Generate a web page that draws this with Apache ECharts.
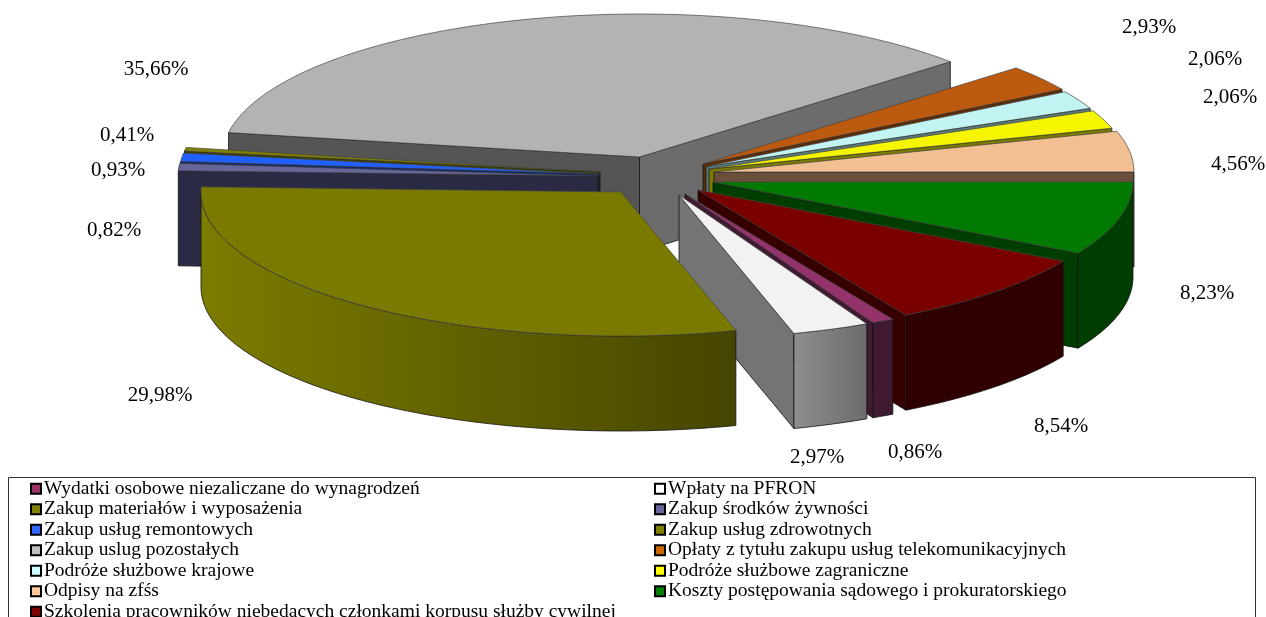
<!DOCTYPE html>
<html><head><meta charset="utf-8">
<style>html,body{margin:0;padding:0;background:#fff;overflow:hidden;width:1266px;height:617px}#c{width:1266px;height:680px}</style>
<script src="https://cdn.jsdelivr.net/npm/echarts@6/dist/echarts.min.js"></script>
</head><body><div id="c"></div>
<script>
const names = ["Wydatki osobowe niezaliczane do wynagrodzeń","Wpłaty na PFRON","Zakup materiałów i wyposażenia","Zakup środków żywności","Zakup usług remontowych","Zakup usług zdrowotnych","Zakup uslug pozostałych","Opłaty z tytułu zakupu usług telekomunikacyjnych","Podróże służbowe krajowe","Podróże służbowe zagraniczne","Odpisy na zfśs","Koszty postępowania sądowego i prokuratorskiego","Szkolenia pracowników niebędących członkami korpusu służby cywilnej"];
const values = [0.86,2.97,29.98,0.82,0.93,0.41,35.66,2.93,2.06,2.06,4.56,8.23,8.54];
const legendColors = ["#993366","#ffffff","#808000","#666699","#3366ff","#808000","#c0c0c0","#cc6600","#ccffff","#ffff00","#ffcc99","#008000","#800000"];
const topColors = ["#94336b","#f2f2f2","#7a7a00","#66669a","#2060ff","#808000","#b3b3b3","#bc5a10","#c2f4f4","#f5f500","#f2bf92","#007a00","#7a0000"];
const cutColors = ["#3f1a30","#747474","#4a4a00","#2a2a45","#102a70","#404000","#6c6c6c","#5e2d08","#5a7a7a","#7a7a00","#6a503c","#003d00","#360000"];
const cutStartColors = ["#3f1a30","#747474","#4a4a00","#2a2a45","#102a70","#404000","#555555","#5e2d08","#5a7a7a","#7a7a00","#6a503c","#003d00","#360000"];
const wallFrom = ["#3f1a30","#8e8e8e","#7c7c00","#2a2a45","#102a70","#404000","#5a5a5a","#5e2d08","#5a7a7a","#7a7a00","#6a503c","#003d00","#300000"];
const wallTo = ["#3f1a30","#6c6c6c","#454500","#2a2a45","#102a70","#404000","#5a5a5a","#5e2d08","#5a7a7a","#7a7a00","#6a503c","#003d00","#300000"];
const apexX = [685,679,621,598,599,600,639.5,703,706,709,714,713,698];
const apexY = [194,195,192,176,174,172,157,164,166.5,169,172,182,190];
const radiusScale = [1,1,1,1,1,1,0.993,1,1,1,1,1,1];
const labelX = [915,817,160,114,118,127,156,1149,1215,1230,1238,1207,1061];
const labelY = [452,457,395,230,170,135,69,27,59,97,164,293,426];
const drawOrder = [12,13,14,5,4,3,2,6,7,8,9,10,11];
const leftColumn = [0,2,4,6,8,10,12];
const rightColumn = [1,3,5,7,9,11];
const START = 150.34, RX = 420, RY = 144, DEPTH = 95;
const total = values.reduce((a,b)=>a+b,0);
const rad = d => d*Math.PI/180;
function pt(a,cx,cy,dy,s){return [cx+RX*s*Math.sin(rad(a)), cy-RY*s*Math.cos(rad(a))+(dy||0)];}
function arc(a0,a1,cx,cy,dy,s){const n=Math.max(2,Math.ceil(Math.abs(a1-a0)/1.5));const r=[];for(let k=0;k<=n;k++)r.push(pt(a0+(a1-a0)*k/n,cx,cy,dy,s));return r;}
function poly(points,fill,stroke,w){return {type:'polygon',shape:{points:points},style:{fill:fill,stroke:stroke||'#111',lineWidth:w===undefined?0.8:w,lineJoin:'round'},silent:true};}
function grad(a,b){return {type:'linear',x:0,y:0,x2:1,y2:0,colorStops:[{offset:0,color:a},{offset:1,color:b}]};}
function makeRender(i){
  return function(params,api){
    const v = api.value(0);
    let before = 0; for(let k=0;k<i;k++) before += values[k];
    let a0 = START+before/total*360; if(a0>=360) a0-=360;
    const a1 = a0+v/total*360;
    const cx = apexX[i], cy = apexY[i], s = radiusScale[i];
    const kids = [];
    const cut = (a,c) => {const t=pt(a,cx,cy,0,s);return poly([[cx,cy],t,[t[0],t[1]+DEPTH],[cx,cy+DEPTH]],c);};
    if(Math.sin(rad(a0))<0) kids.push(cut(a0,cutStartColors[i]));
    if(Math.sin(rad(a1))>0) kids.push(cut(a1,cutColors[i]));
    const w0=Math.max(a0,90), w1=Math.min(a1,270);
    if(w1>w0){
      const up=arc(w0,w1,cx,cy,0,s), dn=arc(w1,w0,cx,cy,DEPTH,s);
      kids.push(poly(up.concat(dn),grad(wallFrom[i],wallTo[i])));
    }
    kids.push(poly([[cx,cy]].concat(arc(a0,a1,cx,cy,0,s)),topColors[i],'#444',0.7));
    kids.push({type:'text',silent:true,style:{text:v.toFixed(2).replace('.',',')+'%',x:labelX[i],y:labelY[i],align:'center',verticalAlign:'middle',fill:'#000',font:'21px "Liberation Serif"'}});
    return {type:'group',children:kids};
  };
}
const series = names.map((n,i)=>({
  type:'custom',name:n,coordinateSystem:'none',z:drawOrder[i],
  animation:false,itemStyle:{color:legendColors[i]},
  data:[[values[i]]],renderItem:makeRender(i)
}));
function legendFor(col,left){return {
  orient:'vertical',left:left,top:478.5,padding:0,itemGap:0,itemWidth:10,itemHeight:10,selectedMode:false,
  icon:'rect',align:'left',
  textStyle:{color:'#000',fontFamily:'"Liberation Serif"',fontSize:19.5,lineHeight:20.5,padding:[0,0,0,-2]},
  data:col.map(i=>({name:names[i],icon:'rect',itemStyle:{color:legendColors[i],borderColor:'#000',borderWidth:2}}))
};}
const chart = echarts.init(document.getElementById('c'),null,{renderer:'canvas'});
chart.setOption({
  backgroundColor:'#fff',animation:false,
  legend:[legendFor(leftColumn,30),legendFor(rightColumn,654)],
  graphic:[{type:'rect',z:-1,shape:{x:8.5,y:477.5,width:1247,height:200},style:{fill:'none',stroke:'#333',lineWidth:1},silent:true}],
  series:series
});
</script></body></html>
